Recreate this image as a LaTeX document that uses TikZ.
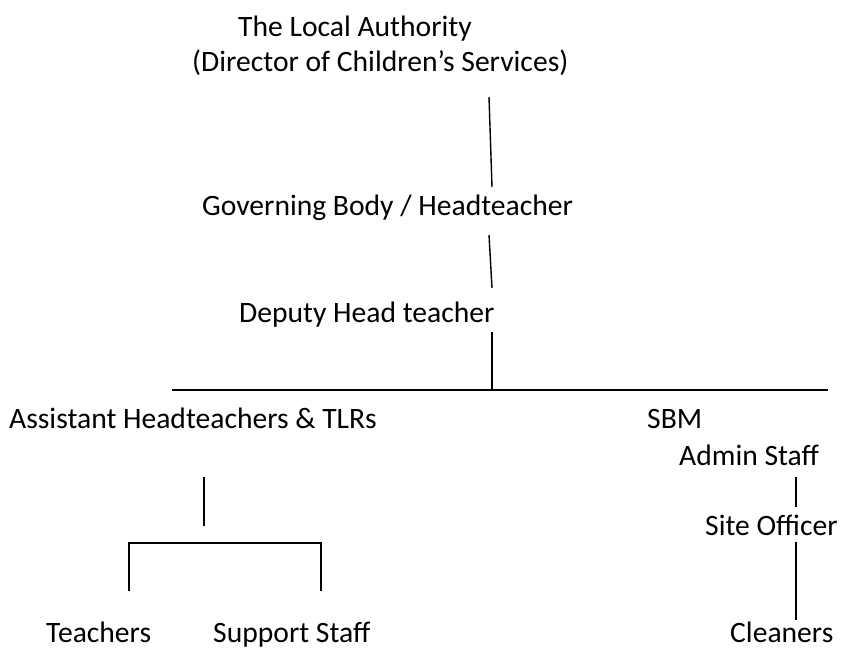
\documentclass[tikz,border=0pt]{standalone}
\usepackage{fontspec}
\setmainfont{Carlito}
\begin{document}
\begin{tikzpicture}[x=1pt,y=-1pt,
  lbl/.style={anchor=base west, inner sep=0pt, font=\fontsize{29.6}{34}\selectfont},
  conn/.style={line width=1.4pt, line cap=butt}]
\useasboundingbox (0,0) rectangle (848,648);
% labels
\node[lbl] (la)   at (238,36)  {The Local Authority};
\node[lbl] (dcs)  at (192,71)  {(Director of Children’s Services)};
\node[lbl] (gb)   at (202,215) {Governing Body / Headteacher};
\node[lbl] (dh)   at (239,322) {Deputy Head teacher};
\node[lbl] (aht)  at (9,428)   {Assistant Headteachers \& TLRs};
\node[lbl] (sbm)  at (647,428) {SBM};
\node[lbl] (adm)  at (679,465) {Admin Staff};
\node[lbl] (so)   at (705,535) {Site Officer};
\node[lbl] (tch)  at (46,642)  {Teachers};
\node[lbl] (ss)   at (213,642) {Support Staff};
\node[lbl] (cln)  at (730,642) {Cleaners};
% connector end points
\coordinate (c1a) at (489,97);  \coordinate (c1b) at (492,187);
\coordinate (c2a) at (489,235); \coordinate (c2b) at (492,288);
\coordinate (c3a) at (492,332); \coordinate (c3b) at (492,390);
\coordinate (hl)  at (172,390); \coordinate (hr)  at (828,390);
\coordinate (c4a) at (204,477); \coordinate (c4b) at (204,526);
\coordinate (bl)  at (129,543); \coordinate (br)  at (321,543);
\coordinate (blb) at (129,591); \coordinate (brb) at (321,591);
\coordinate (c5a) at (796,477); \coordinate (c5b) at (796,507);
\coordinate (c6a) at (796,542); \coordinate (c6b) at (796,620);
% connectors
\draw[conn] (c1a) -- (c1b);
\draw[conn] (c2a) -- (c2b);
\draw[conn] (c3a) -- (c3b);
\draw[conn] (hl) -- (hr);
\draw[conn] (c4a) -- (c4b);
\draw[conn] (blb) -- (bl) -- (br) -- (brb);
\draw[conn] (c5a) -- (c5b);
\draw[conn] (c6a) -- (c6b);
\end{tikzpicture}
\end{document}
